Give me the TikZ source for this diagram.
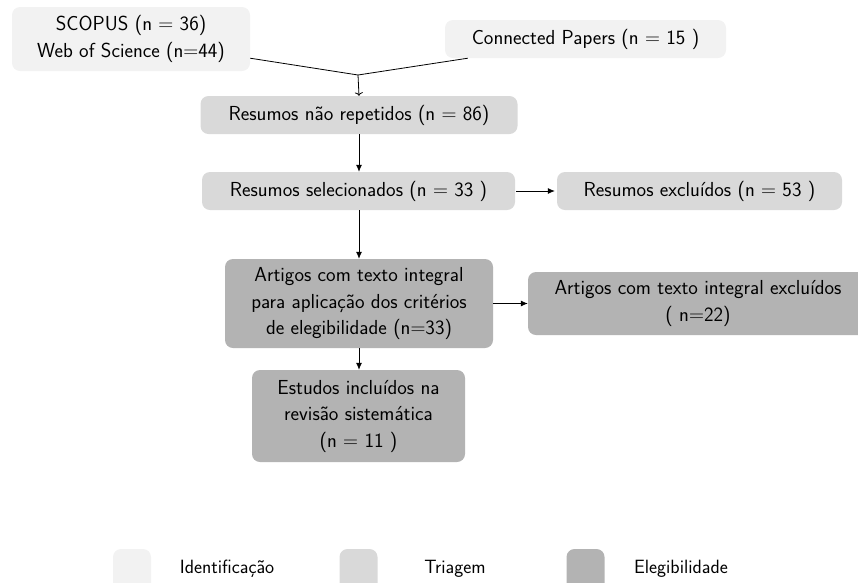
\documentclass[tikz,border=0pt]{standalone}
\usetikzlibrary{arrows.meta}
\definecolor{idc}{HTML}{F2F2F2}
\definecolor{tri}{HTML}{D9D9D9}
\definecolor{ele}{HTML}{B3B3B3}
\begin{document}
\begin{tikzpicture}[x=1pt,y=-1pt,
  font=\sffamily\fontsize{20.3}{26.5}\selectfont,
  box/.style={rectangle, rounded corners=8pt, inner sep=0pt, align=center},
  arr/.style={-{Latex[length=7pt,width=6pt]}, line width=0.8pt},
  ln/.style={line width=0.8pt},
  legbox/.style={rectangle, rounded corners=8pt, minimum width=38pt, minimum height=46pt, inner sep=0pt},
  legtxt/.style={font=\sffamily\fontsize{19.2}{22}\selectfont, inner sep=0pt, anchor=base}]
\useasboundingbox (0,0) rectangle (858,582);
\node[box, fill=idc, minimum width=238pt, minimum height=64pt] (scopus) at (131,39) {SCOPUS (n $=$ 36)\\Web of Science (n$=$44)};
\node[box, fill=idc, minimum width=281pt, minimum height=38pt] (cp) at (585.5,39) {Connected Papers (n $=$ 15 )};
\node[box, fill=tri, minimum width=317pt, minimum height=38pt] (rnr) at (359,115) {Resumos não repetidos (n $=$ 86)};
\node[box, fill=tri, minimum width=313pt, minimum height=38pt] (rsel) at (358.5,191) {Resumos selecionados (n $=$ 33 )};
\node[box, fill=tri, minimum width=285pt, minimum height=38pt] (rexc) at (699.5,191) {Resumos excluídos (n $=$ 53 )};
\node[box, fill=ele, minimum width=268pt, minimum height=89pt] (art) at (359,303.5) {Artigos com texto integral\\para aplicação dos critérios\\de elegibilidade (n$=$33)};
\node[box, fill=ele, minimum width=340pt, minimum height=63pt] (artexc) at (698,303.5) {Artigos com texto integral excluídos\\( n$=$22)};
\node[box, fill=ele, minimum width=213pt, minimum height=92pt] (est) at (358.5,416) {Estudos incluídos na\\revisão sistemática\\(n $=$ 11 )};
\coordinate (m) at (358,75);
\draw[ln] ([yshift=13pt]scopus.south east) -- (m);
\draw[ln] ([xshift=23pt]cp.south west) -- (m);
\draw[ln,-{To[length=3.5pt,width=8pt]}] (m) -- (rnr.north);
\draw[arr] (rnr.south) -- (rsel.north -| rnr.south);
\draw[arr] ([xshift=1pt]rsel.east) -- ([xshift=-2pt]rexc.west);
\draw[arr] (rsel.south -| art.north) -- (art.north);
\draw[arr] (art.east) -- (artexc.west |- art.east);
\draw[arr] (art.south) -- (art.south |- est.north);
\node[legbox, fill=idc] (l1) at (132,572) {};
\node[legbox, fill=tri] (l2) at (358.5,572) {};
\node[legbox, fill=ele] (l3) at (585.5,572) {};
\node[legtxt] (t1) at (227,573.5) {Identificação};
\node[legtxt] (t2) at (455,573.5) {Triagem};
\node[legtxt] (t3) at (681,573.5) {Elegibilidade};
\end{tikzpicture}
\end{document}
